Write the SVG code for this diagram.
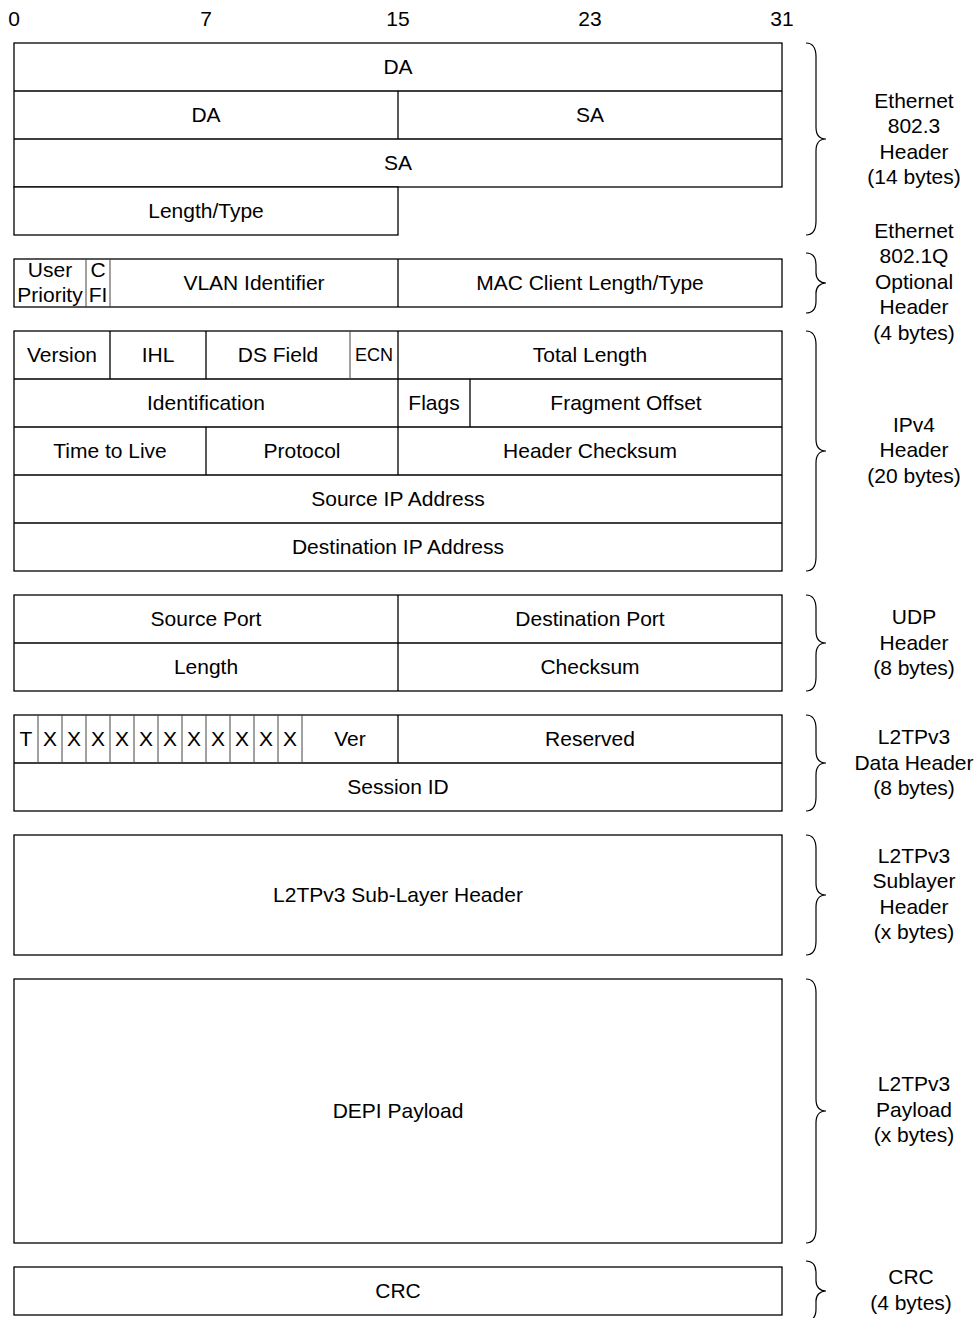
<svg xmlns="http://www.w3.org/2000/svg" width="980" height="1318" viewBox="0 0 980 1318">
<style>
text{font-family:"Liberation Sans",Arial,sans-serif;font-size:21px;fill:#000;text-anchor:middle;transform:translate(0px,-1px)}
.s{font-size:18px}
.b{fill:#fff;stroke:#000;stroke-width:1.3}
.l{stroke:#000;stroke-width:1.3;fill:none}
.g{stroke:#444;stroke-width:1;fill:none}
.br{stroke:#000;stroke-width:1.2;fill:none}
</style>
<rect width="980" height="1318" fill="#fff"/>
<g id="bits">
<text x="14" y="26.5">0</text>
<text x="206" y="26.5">7</text>
<text x="398" y="26.5">15</text>
<text x="590" y="26.5">23</text>
<text x="782" y="26.5">31</text>
</g>
<g id="ethernet">
<rect class="b" x="14" y="43" width="768" height="144"/>
<rect class="b" x="14" y="187" width="384" height="48"/>
<path class="l" d="M14,91H782M14,139H782M398,91V139"/>
<text x="398" y="74.5">DA</text>
<text x="206" y="122.5">DA</text>
<text x="590" y="122.5">SA</text>
<text x="398" y="170.5">SA</text>
<text x="206" y="218.5">Length/Type</text>
</g>
<g id="vlan">
<rect class="b" x="14" y="259" width="768" height="48"/>
<path class="g" d="M86,259V307M110,259V307"/>
<path class="l" d="M398,259V307"/>
<text x="50" y="277.5">User</text>
<text x="50" y="302.5">Priority</text>
<text x="98" y="277.5">C</text>
<text x="98" y="302.5">FI</text>
<text x="254" y="290.5">VLAN Identifier</text>
<text x="590" y="290.5">MAC Client Length/Type</text>
</g>
<g id="ipv4">
<rect class="b" x="14" y="331" width="768" height="240"/>
<path class="l" d="M14,379H782M14,427H782M14,475H782M14,523H782M110,331V379M206,331V379M398,331V379M398,379V427M470,379V427M206,427V475M398,427V475"/>
<path class="g" d="M350,331V379"/>
<text x="62" y="362.5">Version</text>
<text x="158" y="362.5">IHL</text>
<text x="278" y="362.5">DS Field</text>
<text class="s" x="374" y="361.5">ECN</text>
<text x="590" y="362.5">Total Length</text>
<text x="206" y="410.5">Identification</text>
<text x="434" y="410.5">Flags</text>
<text x="626" y="410.5">Fragment Offset</text>
<text x="110" y="458.5">Time to Live</text>
<text x="302" y="458.5">Protocol</text>
<text x="590" y="458.5">Header Checksum</text>
<text x="398" y="506.5">Source IP Address</text>
<text x="398" y="554.5">Destination IP Address</text>
</g>
<g id="udp">
<rect class="b" x="14" y="595" width="768" height="96"/>
<path class="l" d="M14,643H782M398,595V691"/>
<text x="206" y="626.5">Source Port</text>
<text x="590" y="626.5">Destination Port</text>
<text x="206" y="674.5">Length</text>
<text x="590" y="674.5">Checksum</text>
</g>
<g id="l2tpv3">
<rect class="b" x="14" y="715" width="768" height="96"/>
<path class="l" d="M14,763H782M398,715V763"/>
<path class="g" d="M38,715V763M62,715V763M86,715V763M110,715V763M134,715V763M158,715V763M182,715V763M206,715V763M230,715V763M254,715V763M278,715V763M302,715V763"/>
<text x="26" y="746.5">T</text>
<text x="50" y="746.5">X</text>
<text x="74" y="746.5">X</text>
<text x="98" y="746.5">X</text>
<text x="122" y="746.5">X</text>
<text x="146" y="746.5">X</text>
<text x="170" y="746.5">X</text>
<text x="194" y="746.5">X</text>
<text x="218" y="746.5">X</text>
<text x="242" y="746.5">X</text>
<text x="266" y="746.5">X</text>
<text x="290" y="746.5">X</text>
<text x="350" y="746.5">Ver</text>
<text x="590" y="746.5">Reserved</text>
<text x="398" y="794.5">Session ID</text>
</g>
<g id="sublayer">
<rect class="b" x="14" y="835" width="768" height="120"/>
<text x="398" y="902.5">L2TPv3 Sub-Layer Header</text>
</g>
<g id="payload">
<rect class="b" x="14" y="979" width="768" height="264"/>
<text x="398" y="1118.5">DEPI Payload</text>
</g>
<g id="crc">
<rect class="b" x="14" y="1267" width="768" height="48"/>
<text x="398" y="1298.5">CRC</text>
</g>
<g id="braces">
<path class="br" d="M806,43C812,43 816,47 816,57L816,127C816,135 820,139 826,139C820,139 816,143 816,151L816,221C816,231 812,235 806,235"/>
<path class="br" d="M806,253C812,253 816,257 816,265L816,273C816,279 820,283 826,283C820,283 816,287 816,293L816,301C816,309 812,313 806,313"/>
<path class="br" d="M806,331C812,331 816,335 816,345L816,439C816,447 820,451 826,451C820,451 816,455 816,463L816,557C816,567 812,571 806,571"/>
<path class="br" d="M806,595C812,595 816,599 816,609L816,631C816,639 820,643 826,643C820,643 816,647 816,655L816,677C816,687 812,691 806,691"/>
<path class="br" d="M806,715C812,715 816,719 816,729L816,751C816,759 820,763 826,763C820,763 816,767 816,775L816,797C816,807 812,811 806,811"/>
<path class="br" d="M806,835C812,835 816,839 816,849L816,883C816,891 820,895 826,895C820,895 816,899 816,907L816,941C816,951 812,955 806,955"/>
<path class="br" d="M806,979C812,979 816,983 816,993L816,1099C816,1107 820,1111 826,1111C820,1111 816,1115 816,1123L816,1229C816,1239 812,1243 806,1243"/>
<path class="br" d="M806,1261C812,1261 816,1265 816,1273L816,1281C816,1287 820,1291 826,1291C820,1291 816,1295 816,1301L816,1309C816,1317 812,1321 806,1321"/>
</g>
<g id="labels">
<text x="914" y="108.5">Ethernet</text>
<text x="914" y="134">802.3</text>
<text x="914" y="159.5">Header</text>
<text x="914" y="185">(14 bytes)</text>
<text x="914" y="238.5">Ethernet</text>
<text x="914" y="264">802.1Q</text>
<text x="914" y="289.5">Optional</text>
<text x="914" y="315">Header</text>
<text x="914" y="340.5">(4 bytes)</text>
<text x="914" y="432.5">IPv4</text>
<text x="914" y="458">Header</text>
<text x="914" y="483.5">(20 bytes)</text>
<text x="914" y="625">UDP</text>
<text x="914" y="650.5">Header</text>
<text x="914" y="676">(8 bytes)</text>
<text x="914" y="745">L2TPv3</text>
<text x="914" y="770.5">Data Header</text>
<text x="914" y="796">(8 bytes)</text>
<text x="914" y="863.5">L2TPv3</text>
<text x="914" y="889">Sublayer</text>
<text x="914" y="914.5">Header</text>
<text x="914" y="940">(x bytes)</text>
<text x="914" y="1092">L2TPv3</text>
<text x="914" y="1117.5">Payload</text>
<text x="914" y="1143">(x bytes)</text>
<text x="911" y="1285">CRC</text>
<text x="911" y="1310.5">(4 bytes)</text>
</g>
</svg>
